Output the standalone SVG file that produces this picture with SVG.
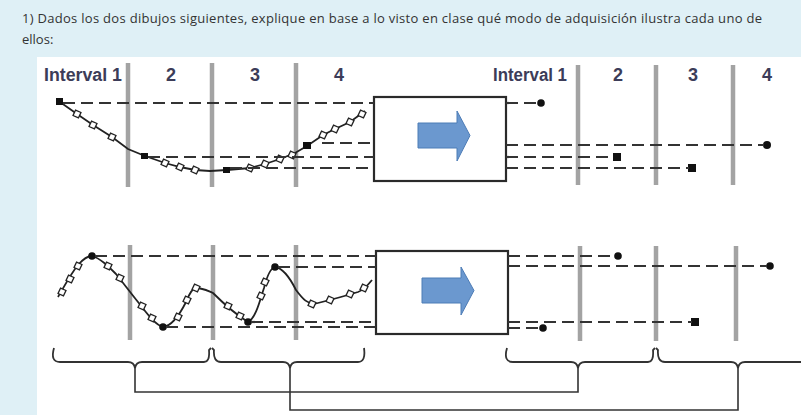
<svg xmlns="http://www.w3.org/2000/svg" width="801" height="415" viewBox="0 0 801 415">
<defs>
<style>
.hdr{font-family:"Open Sans","Liberation Sans",sans-serif;font-size:13px;fill:#333}
.lbl{font-family:"Liberation Sans",Arial,sans-serif;font-size:18px;font-weight:bold;fill:#3c3c58}
.bar{stroke:#a3a3a3;stroke-width:4.5}
.dash{stroke:#333;stroke-width:2.2;fill:none;stroke-dasharray:12 6}
.curve{stroke:#222;stroke-width:1.8;fill:none}
.box{fill:#fff;stroke:#2a2a2a;stroke-width:2.2}
.arr{fill:#6b98cf;stroke:#4d7cb6;stroke-width:1}
.brace{stroke:#333;stroke-width:1.8;fill:none}
.conn{stroke:#333;stroke-width:1.6;fill:none}
.dot{fill:#111}
</style>
<g id="om"><rect x="-3" y="-3" width="6" height="6" fill="#fff" stroke="#222" stroke-width="1.3" transform="rotate(25)"/></g>
</defs>
<rect x="0" y="0" width="801" height="415" fill="#dff0f6"/>
<rect x="37" y="57" width="764" height="358" fill="#fff"/>
<g id="question">
<text class="hdr" x="22" y="23" textLength="740" lengthAdjust="spacing">1) Dados los dos dibujos siguientes, explique en base a lo visto en clase qué modo de adquisición ilustra cada uno de</text>
<text class="hdr" x="22" y="44">ellos:</text>
</g>
<g id="top-input">
<line class="bar" x1="128" y1="63" x2="128" y2="187"/>
<line class="bar" x1="212" y1="63" x2="212" y2="187"/>
<line class="bar" x1="296" y1="63" x2="296" y2="187"/>
<text class="lbl" x="44" y="81" textLength="78" lengthAdjust="spacingAndGlyphs">Interval 1</text>
<text class="lbl" x="166" y="81">2</text>
<text class="lbl" x="250" y="81">3</text>
<text class="lbl" x="334" y="81">4</text>
<polyline class="curve" points="60,102 77,114 93,125 112,137 128,149 145,156 165,163 180,167 195,170 210,171 227,170 250,168 265,164 280,159 295,153 307,146 323,135 335,129 350,122 365,111"/>
<use href="#om" x="77" y="114"/><use href="#om" x="93" y="125"/><use href="#om" x="112" y="137"/>
<use href="#om" x="165" y="163"/><use href="#om" x="180" y="167"/><use href="#om" x="195" y="170"/>
<use href="#om" x="250" y="168"/><use href="#om" x="265" y="164"/><use href="#om" x="280" y="159"/><use href="#om" x="292" y="155"/>
<use href="#om" x="323" y="135"/><use href="#om" x="335" y="129"/><use href="#om" x="350" y="122"/><use href="#om" x="362" y="114"/>
<rect class="dot" x="56" y="98" width="7" height="7"/>
<rect class="dot" x="141" y="153" width="7" height="6"/>
<rect class="dot" x="223" y="167" width="7" height="6"/>
<rect class="dot" x="303" y="142" width="8" height="7"/>
</g>
<g id="bottom-input">
<line class="bar" x1="130" y1="245" x2="130" y2="340"/>
<line class="bar" x1="213" y1="245" x2="213" y2="340"/>
<line class="bar" x1="296" y1="245" x2="296" y2="340"/>
<path class="curve" d="M58,297 C64,287 70,275 78,265 C84,258 88,256 92,256 C100,258 108,266 116,274 C124,284 130,292 138,302 C146,312 154,324 163,327 C172,326 180,314 186,302 C190,292 193,288 196,288 C203,288 208,291 213,293 C222,302 232,312 248,322 C256,318 260,300 264,288 C267,276 271,268 275,267 C283,268 290,278 296,290 C302,298 308,306 318,303 C330,300 345,296 358,292 C364,290 368,285 372,280"/>
<use href="#om" x="62" y="292"/><use href="#om" x="70" y="279"/><use href="#om" x="78" y="266"/>
<use href="#om" x="108" y="266"/><use href="#om" x="120" y="278"/>
<use href="#om" x="142" y="306"/><use href="#om" x="152" y="318"/>
<use href="#om" x="178" y="317"/><use href="#om" x="187" y="300"/><use href="#om" x="196" y="288"/>
<use href="#om" x="228" y="306"/><use href="#om" x="240" y="316"/>
<use href="#om" x="261" y="296"/><use href="#om" x="265" y="282"/>
<use href="#om" x="312" y="304"/><use href="#om" x="330" y="300"/><use href="#om" x="350" y="294"/><use href="#om" x="364" y="288"/>
<circle class="dot" cx="92" cy="256" r="3.8"/>
<circle class="dot" cx="163" cy="327" r="3.8"/>
<circle class="dot" cx="248" cy="322" r="3.8"/>
<circle class="dot" cx="275" cy="267" r="3.8"/>
</g>
<g id="top-box">
<rect class="box" x="374" y="97" width="132" height="84"/>
<polygon class="arr" points="418,123 457,123 457,111 470,135.5 457,161 457,148 418,148"/>
</g>
<g id="bottom-box">
<rect class="box" x="376" y="251" width="132" height="83"/>
<polygon class="arr" points="422,278 461,278 461,267 474,290.5 461,315 461,303 422,303"/>
</g>
<g id="top-output">
<line class="bar" x1="578" y1="65" x2="578" y2="185"/>
<line class="bar" x1="656" y1="65" x2="656" y2="185"/>
<line class="bar" x1="733" y1="65" x2="733" y2="185"/>
<text class="lbl" x="493" y="81" textLength="74" lengthAdjust="spacingAndGlyphs">Interval 1</text>
<text class="lbl" x="613" y="81">2</text>
<text class="lbl" x="688" y="81">3</text>
<text class="lbl" x="762" y="81">4</text>
<circle class="dot" cx="541" cy="103" r="3.8"/>
<circle class="dot" cx="767" cy="145" r="4"/>
<rect class="dot" x="613" y="153" width="8" height="8"/>
<rect class="dot" x="688" y="164" width="8" height="8"/>
</g>
<g id="bottom-output">
<line class="bar" x1="580" y1="246" x2="580" y2="341"/>
<line class="bar" x1="656" y1="246" x2="656" y2="341"/>
<line class="bar" x1="736" y1="246" x2="736" y2="341"/>
<circle class="dot" cx="618" cy="256" r="3.8"/>
<circle class="dot" cx="770" cy="266" r="3.8"/>
<circle class="dot" cx="543" cy="328" r="3.8"/>
<rect class="dot" x="691" y="318" width="8" height="8"/>
</g>
<g id="connectors">
<line class="dash" x1="63" y1="103" x2="374" y2="103"/>
<line class="dash" x1="322" y1="143" x2="374" y2="143"/>
<line class="dash" x1="148" y1="157" x2="374" y2="157"/>
<line class="dash" x1="230" y1="168" x2="374" y2="168"/>
<line class="dash" x1="506" y1="103" x2="538" y2="103"/>
<line class="dash" x1="506" y1="145" x2="764" y2="145"/>
<line class="dash" x1="506" y1="157" x2="614" y2="157"/>
<line class="dash" x1="506" y1="168" x2="689" y2="168"/>
<line class="dash" x1="95" y1="256" x2="376" y2="256"/>
<line class="dash" x1="278" y1="267" x2="376" y2="267"/>
<line class="dash" x1="251" y1="322" x2="376" y2="322"/>
<line class="dash" x1="166" y1="327" x2="376" y2="327"/>
<line class="dash" x1="508" y1="256" x2="615" y2="256"/>
<line class="dash" x1="508" y1="266" x2="767" y2="266"/>
<line class="dash" x1="508" y1="328" x2="540" y2="328"/>
<line class="dash" x1="508" y1="322" x2="692" y2="322"/>
<path class="conn" d="M135,368 V392 H578 V368"/>
<path class="conn" d="M290,368 V410 H738 V368"/>
</g>
<g id="braces">
<path class="brace" d="M54,348 Q50,362 60,362 H128 Q134,362 135,368 Q136,362 142,362 H204 Q210,362 209,350 L211,348"/>
<path class="brace" d="M212,348 L214,350 Q213,362 221,362 H283 Q289,362 290,368 Q291,362 297,362 H358 Q366,362 364,348"/>
<path class="brace" d="M507,348 Q503,362 513,362 H571 Q577,362 578,368 Q579,362 585,362 H648 Q654,362 653,350 L655,348"/>
<path class="brace" d="M656,348 L658,350 Q657,362 665,362 H731 Q737,362 738,368 Q739,362 745,362 H801"/>
</g>
</svg>
